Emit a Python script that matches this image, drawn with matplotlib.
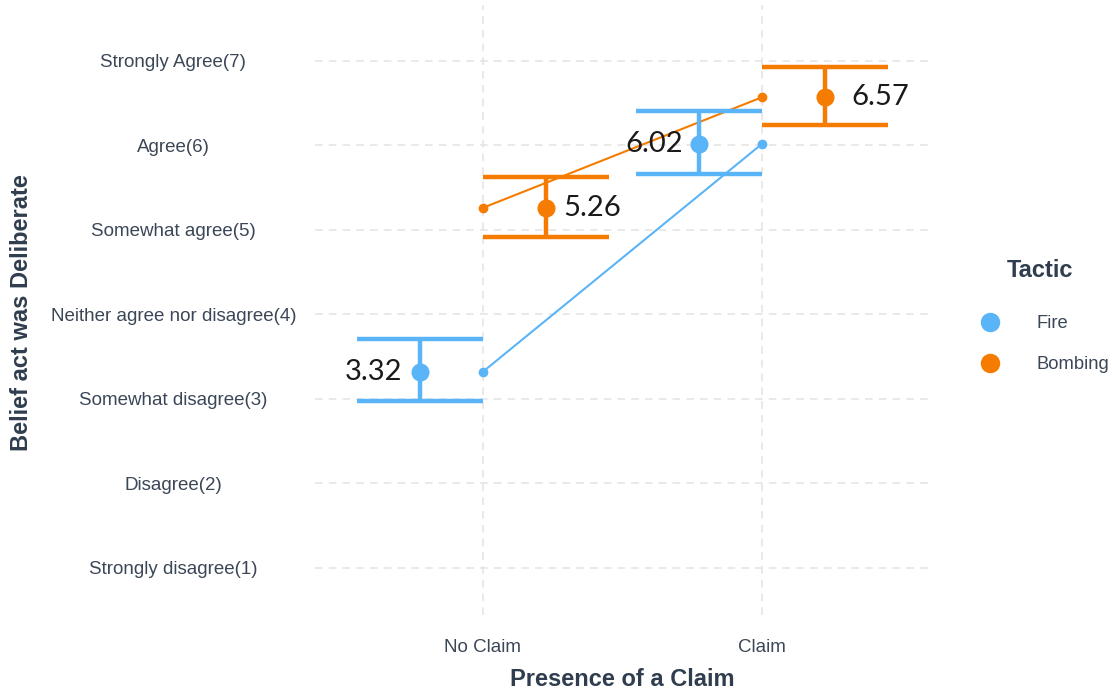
import matplotlib
matplotlib.use("Agg")
import matplotlib.pyplot as plt
from matplotlib.lines import Line2D

# ---- data ----
claim_levels = ["No Claim", "Claim"]
tactics = ["Fire", "Bombing"]
fire_mean = [3.32, 6.02]
fire_low = [2.97, 5.66]
fire_high = [3.71, 6.41]
bombing_mean = [5.26, 6.57]
bombing_low = [4.91, 6.24]
bombing_high = [5.63, 6.93]
y_ticks = [1, 2, 3, 4, 5, 6, 7]
y_labels = ["Strongly disagree(1)", "Disagree(2)", "Somewhat disagree(3)",
            "Neither agree nor disagree(4)", "Somewhat agree(5)", "Agree(6)",
            "Strongly Agree(7)"]

colors = {"Fire": "#5AB4F8", "Bombing": "#F57C00"}
dodge = {"Fire": -0.225, "Bombing": 0.225}
label_offsets = {"Fire": [-13, -12], "Bombing": [13, 19]}
series = {
    "Fire": (fire_mean, fire_low, fire_high),
    "Bombing": (bombing_mean, bombing_low, bombing_high),
}

tick_color = "#3B4757"
title_color = "#2F3D4E"

fig = plt.figure(figsize=(11.12, 6.94), dpi=100)
ax = fig.add_axes([315 / 1112, 1 - 615 / 694, (930 - 315) / 1112, (615 - 5) / 694])

xpos = [1, 2]
for t in tactics:
    mean, lo, hi = series[t]
    c = colors[t]
    ax.plot(xpos, mean, color=c, lw=1.5, zorder=3)
    ax.plot(xpos, mean, 'o', color=c, ms=6, zorder=3)
    for i, x in enumerate(xpos):
        xd = x + dodge[t]
        ax.vlines(xd, lo[i], hi[i], color=c, lw=3.2, zorder=4)
        ax.hlines([lo[i], hi[i]], xd - 0.225, xd + 0.225, color=c, lw=3.2, zorder=4)
        ax.plot([xd], [mean[i]], 'o', color=c, ms=12, zorder=5)
        off = label_offsets[t][i]
        ax.annotate(f"{mean[i]:.2f}", (xd, mean[i]),
                    xytext=(off, 0), textcoords="offset points",
                    ha="right" if off < 0 else "left", va="center",
                    fontsize=21, family="Lato", color="#1a1a1a", zorder=6)

ax.set_xlim(0.4, 2.6)
ax.set_ylim(0.444, 7.66)
ax.set_xticks(xpos)
ax.set_xticklabels(claim_levels, fontsize=13.5, color=tick_color, family="Liberation Sans")
ax.set_yticks(y_ticks)
ax.set_yticklabels(y_labels, fontsize=13.5, color=tick_color, family="Liberation Sans", ha="center")
ax.tick_params(axis="y", length=0, pad=102)
ax.tick_params(axis="x", length=0, pad=17)

ax.grid(True, color="#E3E3E3", linestyle=(0, (5, 4)), lw=1.1)
ax.set_axisbelow(True)
for s in ax.spines.values():
    s.set_visible(False)

fig.text(622 / 1112, 1 - 680 / 694, "Presence of a Claim", ha="center", va="center",
         fontsize=17, fontweight="bold", color=title_color, family="Liberation Sans")
fig.text(22 / 1112, 1 - 313 / 694, "Belief act was Deliberate", ha="center", va="center",
         rotation=90, fontsize=17, fontweight="bold", color=title_color, family="Liberation Sans")

# legend
handles = [Line2D([], [], marker='o', linestyle='none', color=colors[t], ms=13) for t in tactics]
leg = fig.legend(handles, tactics, loc="center left", bbox_to_anchor=(955 / 1112, 1 - 316 / 694),
                 frameon=False, title="Tactic", handletextpad=1.55, labelspacing=1.3,
                 prop={"family": "Liberation Sans", "size": 13.2},
                 title_fontproperties={"family": "Liberation Sans", "size": 17, "weight": "bold"})
leg._legend_box.sep = 24
for txt in leg.get_texts():
    txt.set_color(tick_color)
leg.get_title().set_color(title_color)

fig.savefig("out.png", dpi=100, facecolor="white")
